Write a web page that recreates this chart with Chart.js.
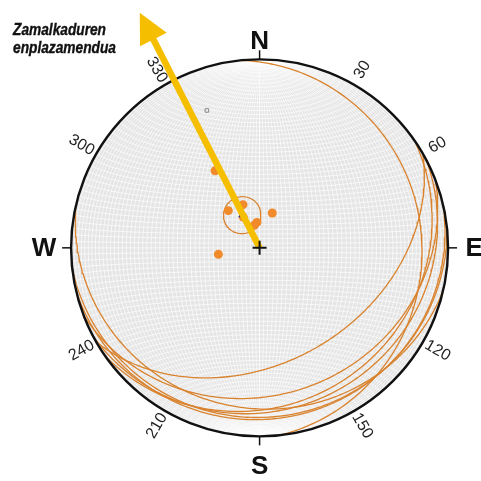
<!DOCTYPE html>
<html>
<head>
<meta charset="utf-8">
<script src="https://cdn.jsdelivr.net/npm/chart.js@4"></script>
<style>
  html, body { margin: 0; padding: 0; background: #fff; }
  #wrap { width: 481px; height: 481px; }
</style>
</head>
<body>
<div id="wrap"><canvas id="estereo" width="481" height="481"></canvas></div>
<script>
// ========================
// Datos
// ========================
// planos: rumbo (regla mano derecha) y buzamiento
const planeStrikes = [60, 69, 55, 103, 84, 77, 354, 62];
const planeDips = [39, 23, 18, 16, 11, 10, 15, 15];

// polos de los planos: direccion e inmersion
const poleTrends = [330, 339, 320, 20, 354, 347, 261, 332];
const polePlunges = [51, 70, 69, 74, 79, 80, 72, 75];

// polo medio y cono de confianza
const meanTrend = 332;
const meanPlunge = 74;
const coneAlpha = 8;

// punto gris
const extraTrends = [339];
const extraPlunges = [23];

// flecha de desplazamiento
const arrowTrend = 333;
const arrowLength = 1.4;

// rotulos
const dirLabels = ["N", "E", "S", "W"];
const dirAzimuths = [0, 90, 180, 270];
const degLabels = [30, 60, 120, 150, 210, 240, 300, 330];
const titleLines = ["Zamalkaduren", "enplazamendua"];

const D2R = Math.PI / 180;

// ========================
// Proyeccion de igual area (hemisferio inferior)
// ========================
function proj(v) {
  const k = 1 / Math.sqrt(1 + v[2]);
  return { x: v[1] * k, y: v[0] * k };
}

function vecLinea(trend, plunge) {
  const t = trend * D2R, p = plunge * D2R;
  return [Math.cos(p) * Math.cos(t), Math.cos(p) * Math.sin(t), Math.sin(p)];
}

function circuloMayor(strike, dip) {
  const s = strike * D2R, d = dip * D2R;
  const a = [Math.cos(s), Math.sin(s), 0];
  const b = [Math.cos(s + Math.PI / 2) * Math.cos(d), Math.sin(s + Math.PI / 2) * Math.cos(d), Math.sin(d)];
  const pts = [];
  for (let i = 0; i <= 180; i++) {
    const t = i * D2R;
    const v = [0, 1, 2].map(k => a[k] * Math.cos(t) + b[k] * Math.sin(t));
    pts.push(proj(v));
  }
  return pts;
}

function circuloMenor(trend, plunge, alpha) {
  const t = trend * D2R, p = plunge * D2R, al = alpha * D2R;
  const v = vecLinea(trend, plunge);
  const u = [Math.sin(p) * Math.cos(t), Math.sin(p) * Math.sin(t), -Math.cos(p)];
  const w = [-Math.sin(t), Math.cos(t), 0];
  const pts = [];
  for (let i = 0; i <= 360; i += 3) {
    const f = i * D2R;
    let c = [0, 1, 2].map(k => Math.cos(al) * v[k] + Math.sin(al) * (Math.cos(f) * u[k] + Math.sin(f) * w[k]));
    if (c[2] < 0) c = c.map(x => -x);
    pts.push(proj(c));
  }
  return pts;
}

// ========================
// Plugin: red, primitivo, rotulos y flecha
// ========================
const estereoPlugin = {
  id: "estereo",
  beforeDatasetsDraw(chart) {
    const { ctx, scales: { x, y } } = chart;
    const cx = x.getPixelForValue(0), cy = y.getPixelForValue(0);
    const R = x.getPixelForValue(1) - cx;
    const px = p => [x.getPixelForValue(p.x), y.getPixelForValue(p.y)];

    ctx.save();
    ctx.beginPath();
    ctx.arc(cx, cy, R, 0, Math.PI * 2);
    ctx.fillStyle = "#e5e5e5";
    ctx.fill();
    ctx.clip();

    ctx.strokeStyle = "rgba(255,255,255,0.95)";
    ctx.lineWidth = 0.7;
    // meridianos cada 2 grados
    for (let d = 2; d <= 90; d += 2) {
      [0, 180].forEach(s => {
        const pts = circuloMayor(s, d);
        ctx.beginPath();
        pts.forEach((p, i) => { const q = px(p); i ? ctx.lineTo(q[0], q[1]) : ctx.moveTo(q[0], q[1]); });
        ctx.stroke();
      });
    }
    // paralelos cada 2 grados
    for (let b = 2; b < 180; b += 2) {
      const br = b * D2R;
      ctx.beginPath();
      for (let i = 0; i <= 180; i += 2) {
        const f = i * D2R;
        const q = px(proj([Math.cos(br), Math.sin(br) * Math.cos(f), Math.sin(br) * Math.sin(f)]));
        i ? ctx.lineTo(q[0], q[1]) : ctx.moveTo(q[0], q[1]);
      }
      ctx.stroke();
    }
    ctx.restore();
  },
  afterDatasetsDraw(chart) {
    const { ctx, scales: { x, y } } = chart;
    const cx = x.getPixelForValue(0), cy = y.getPixelForValue(0);
    const R = x.getPixelForValue(1) - cx;

    // circulo primitivo
    ctx.save();
    ctx.beginPath();
    ctx.arc(cx, cy, R, 0, Math.PI * 2);
    ctx.strokeStyle = "#111";
    ctx.lineWidth = 2.4;
    ctx.stroke();

    // marcas y puntos cardinales
    const dirOffsets = [19, 26, 29, 27];
    ctx.lineWidth = 1.5;
    ctx.fillStyle = "#111";
    ctx.font = "bold 26px 'Liberation Sans', Arial, sans-serif";
    ctx.textAlign = "center";
    ctx.textBaseline = "middle";
    dirAzimuths.forEach((az, i) => {
      const a = az * D2R;
      ctx.beginPath();
      ctx.moveTo(cx + R * Math.sin(a), cy - R * Math.cos(a));
      ctx.lineTo(cx + (R + 9) * Math.sin(a), cy - (R + 9) * Math.cos(a));
      ctx.stroke();
      const o = R + dirOffsets[i];
      ctx.fillText(dirLabels[i], cx + o * Math.sin(a), cy - o * Math.cos(a) + 1);
    });

    // grados
    ctx.font = "16px 'Liberation Sans', Arial, sans-serif";
    ctx.fillStyle = "#222";
    degLabels.forEach(az => {
      const a = az * D2R;
      let rot = az - 90;
      if (rot > 90) rot -= 180;
      ctx.save();
      ctx.translate(cx + (R + 17) * Math.sin(a), cy - (R + 17) * Math.cos(a));
      ctx.rotate(rot * D2R);
      ctx.fillText(String(az), 0, 0);
      ctx.restore();
    });

    // flecha
    const t = arrowTrend * D2R;
    const tx = x.getPixelForValue(arrowLength * Math.sin(t));
    const ty = y.getPixelForValue(arrowLength * Math.cos(t));
    const len = Math.hypot(tx - cx, ty - cy);
    const ux = (tx - cx) / len, uy = (ty - cy) / len;
    const bx = tx - ux * 30, by = ty - uy * 30;
    ctx.strokeStyle = "#f5bf00";
    ctx.fillStyle = "#f5bf00";
    ctx.lineWidth = 6.5;
    ctx.beginPath();
    ctx.moveTo(cx, cy);
    ctx.lineTo(bx + ux * 2, by + uy * 2);
    ctx.stroke();
    ctx.beginPath();
    ctx.moveTo(tx, ty);
    ctx.lineTo(bx - uy * 15, by + ux * 15);
    ctx.lineTo(bx + uy * 15, by - ux * 15);
    ctx.closePath();
    ctx.fill();

    // cruz central
    ctx.strokeStyle = "#111";
    ctx.lineWidth = 2;
    ctx.beginPath();
    ctx.moveTo(cx - 7, cy); ctx.lineTo(cx + 7, cy);
    ctx.moveTo(cx, cy - 7); ctx.lineTo(cx, cy + 7);
    ctx.stroke();

    // titulo (comprimido a lo ancho)
    ctx.fillStyle = "#111";
    ctx.strokeStyle = "#111";
    ctx.lineWidth = 0.4;
    ctx.textAlign = "left";
    ctx.textBaseline = "alphabetic";
    ctx.font = "italic bold 17px 'Liberation Sans', Arial, sans-serif";
    const anchos = [93, 103];
    titleLines.forEach((txt, i) => {
      const w = ctx.measureText(txt).width;
      ctx.save();
      ctx.translate(13, 35 + i * 18);
      ctx.scale(anchos[i] / w, 1);
      ctx.fillText(txt, 0, 0);
      ctx.strokeText(txt, 0, 0);
      ctx.restore();
    });
    ctx.restore();
  }
};

// ========================
// Datasets
// ========================
const datasets = [];

planeStrikes.forEach((s, i) => {
  datasets.push({
    data: circuloMayor(s, planeDips[i]),
    showLine: true,
    borderColor: "#d9832f",
    borderWidth: 1.3,
    pointRadius: 0,
    order: 5
  });
});

datasets.push({
  data: circuloMenor(meanTrend, meanPlunge, coneAlpha),
  showLine: true,
  borderColor: "#d9832f",
  borderWidth: 1.2,
  pointRadius: 0,
  order: 4
});

datasets.push({
  data: poleTrends.map((t, i) => proj(vecLinea(t, polePlunges[i]))),
  pointRadius: 4.5,
  backgroundColor: "#f08a2a",
  borderWidth: 0,
  order: 3
});

datasets.push({
  data: extraTrends.map((t, i) => proj(vecLinea(t, extraPlunges[i]))),
  pointStyle: "rect",
  pointRadius: 2.5,
  backgroundColor: "rgba(0,0,0,0)",
  borderColor: "#8a8a8a",
  borderWidth: 1,
  order: 2
});

datasets.push({
  data: [proj(vecLinea(meanTrend, meanPlunge))],
  pointStyle: "triangle",
  pointRadius: 4.5,
  backgroundColor: "#1d2b8f",
  borderWidth: 0,
  order: 1
});

new Chart(document.getElementById("estereo"), {
  type: "scatter",
  data: { datasets },
  options: {
    responsive: false,
    animation: false,
    events: [],
    layout: { padding: 0 },
    plugins: { legend: { display: false }, tooltip: { enabled: false } },
    scales: {
      x: { type: "linear", min: -1.3506, max: 1.1481, display: false },
      y: { type: "linear", min: -1.2104, max: 1.2883, display: false }
    }
  },
  plugins: [estereoPlugin]
});
</script>
</body>
</html>
